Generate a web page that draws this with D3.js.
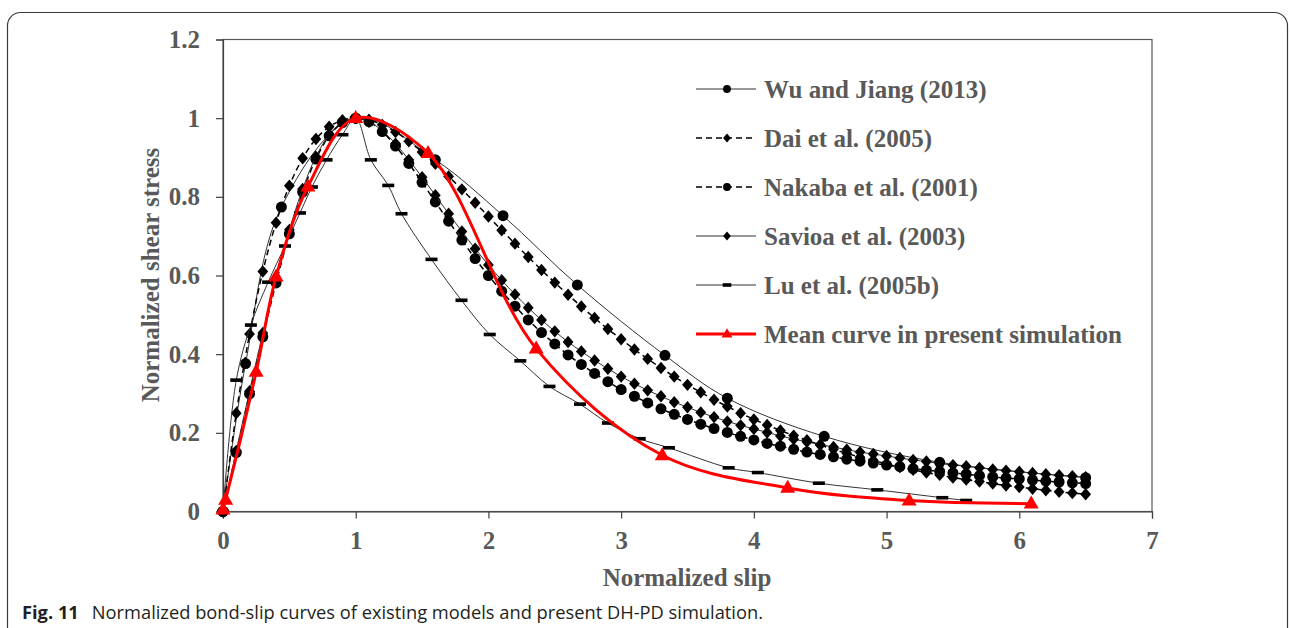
<!DOCTYPE html>
<html lang="en">
<head>
<meta charset="UTF-8">
<title>Normalized bond-slip curves</title>
<script src="https://d3js.org/d3.v7.min.js"></script>
<style>
  body { margin: 0; background: #fff; }
  .tick text, .lbl { font-family: "Liberation Serif", "Times New Roman", serif; font-weight: bold; fill: #595959; }
  .caption { font-family: "Open Sans", "Noto Sans", sans-serif; font-size: 18.3px; fill: #231f20; }
</style>
</head>
<body>
<svg id="chart" width="1290" height="628"></svg>
<script>
// normalized slip grid shared by the dense models
const slipGrid = [0,0.1,0.2,0.3,0.4,0.5,0.6,0.7,0.8,0.9,1.0,1.1,1.2,1.3,1.4,1.5,1.6,1.7,1.8,1.9,
  2.0,2.1,2.2,2.3,2.4,2.5,2.6,2.7,2.8,2.9,3.0,3.1,3.2,3.3,3.4,3.5,3.6,3.7,3.8,3.9,
  4.0,4.1,4.2,4.3,4.4,4.5,4.6,4.7,4.8,4.9,5.0,5.1,5.2,5.3,5.4,5.5,5.6,5.7,5.8,5.9,
  6.0,6.1,6.2,6.3,6.4,6.5];

const daiTau = [0,0.250,0.451,0.610,0.734,0.828,0.898,0.947,0.978,0.995,1.000,0.996,0.983,0.965,0.941,0.914,0.884,0.852,0.819,0.785,
  0.750,0.715,0.681,0.647,0.614,0.582,0.551,0.521,0.492,0.464,0.438,0.412,0.388,0.365,0.343,0.322,0.303,0.284,0.267,0.250,
  0.234,0.220,0.206,0.193,0.181,0.169,0.158,0.148,0.138,0.130,0.121,0.113,0.106,0.099,0.093,0.086,0.081,0.076,0.071,0.066,
  0.062,0.058,0.054,0.050,0.047,0.044];

const nakabaTau = [0,0.150,0.299,0.444,0.581,0.706,0.812,0.896,0.955,0.989,1.000,0.991,0.966,0.929,0.885,0.837,0.787,0.738,0.690,0.643,
  0.600,0.560,0.522,0.487,0.455,0.426,0.398,0.374,0.351,0.330,0.310,0.293,0.276,0.261,0.247,0.234,0.222,0.211,0.201,0.191,
  0.182,0.173,0.166,0.158,0.151,0.145,0.139,0.133,0.128,0.123,0.118,0.114,0.109,0.105,0.102,0.098,0.095,0.091,0.088,0.085,
  0.083,0.080,0.077,0.075,0.073,0.071];

const savioaTau = [0,0.154,0.306,0.454,0.592,0.716,0.820,0.902,0.958,0.990,1.000,0.991,0.968,0.935,0.894,0.850,0.804,0.757,0.712,0.668,
  0.627,0.588,0.552,0.518,0.487,0.458,0.431,0.407,0.384,0.363,0.343,0.325,0.308,0.293,0.278,0.265,0.252,0.240,0.229,0.219,
  0.210,0.201,0.192,0.184,0.177,0.170,0.164,0.157,0.151,0.146,0.141,0.136,0.131,0.127,0.122,0.118,0.115,0.111,0.107,0.104,
  0.101,0.098,0.095,0.092,0.090,0.087];

const wuSlip = [0,0.17,0.44,1.0,1.6,2.11,2.67,3.33,3.8,4.53,5.4,6.5];
const wuTau  = [0,0.376,0.774,1.0,0.894,0.752,0.576,0.397,0.288,0.191,0.125,0.086];

const luSlip = [0,0.1,0.21,0.34,0.467,0.58,0.67,0.78,0.9,1.0,1.114,1.245,1.345,1.571,1.797,2.01,2.24,2.46,2.69,2.9,3.14,3.36,3.81,4.03,4.49,4.93,5.42,5.6];
const luTau  = [0,0.334,0.474,0.583,0.675,0.759,0.825,0.894,0.958,1.0,0.894,0.829,0.757,0.641,0.537,0.45,0.383,0.318,0.273,0.225,0.185,0.162,0.111,0.099,0.072,0.055,0.035,0.028];

const meanSlip = [0,0.02,0.25,0.40,0.64,1.0,1.545,2.36,3.31,4.255,5.17,6.09];
const meanTau  = [0.005,0.03,0.355,0.597,0.826,1.0,0.911,0.414,0.143,0.060,0.028,0.020];

const xTicks = [0,1,2,3,4,5,6,7];
const yTicks = [0,0.2,0.4,0.6,0.8,1,1.2];
const yTickLabels = ["0","0.2","0.4","0.6","0.8","1","1.2"];
const legendLabels = ["Wu and Jiang (2013)","Dai et al. (2005)","Nakaba et al. (2001)","Savioa et al. (2003)","Lu et al. (2005b)","Mean curve in present simulation"];

const svg = d3.select("#chart");

// outer figure frame with rounded corners
svg.append("rect")
  .attr("x", 7.5).attr("y", 12.5).attr("width", 1280).attr("height", 700)
  .attr("rx", 13).attr("fill", "none").attr("stroke", "#3a3a3a").attr("stroke-width", 1.2);

const x = d3.scaleLinear().domain([0, 7]).range([223, 1152]);
const y = d3.scaleLinear().domain([0, 1.2]).range([511.5, 39.5]);

// plot box
svg.append("rect")
  .attr("x", x(0)).attr("y", y(1.2)).attr("width", x(7) - x(0)).attr("height", y(0) - y(1.2))
  .attr("fill", "none").attr("stroke", "#595959").attr("stroke-width", 1.2);

const xAxis = svg.append("g")
  .attr("transform", `translate(0,${y(0)})`)
  .call(d3.axisBottom(x).tickValues(xTicks).tickSize(7).tickPadding(13).tickFormat(d3.format("d")));
const yAxis = svg.append("g")
  .attr("transform", `translate(${x(0)},0)`)
  .call(d3.axisLeft(y).tickValues(yTicks).tickSize(7).tickPadding(16).tickFormat((d, i) => yTickLabels[i]));

[xAxis, yAxis].forEach(g => {
  g.selectAll(".domain, .tick line").attr("stroke", "#404040").attr("stroke-width", 1.2);
  g.selectAll(".tick text").attr("font-size", 25);
});

// axis titles
svg.append("text").attr("class", "lbl")
  .attr("x", 687).attr("y", 586).attr("text-anchor", "middle").attr("font-size", 25)
  .text("Normalized slip");
svg.append("text").attr("class", "lbl")
  .attr("transform", "translate(159,275) rotate(-90)").attr("text-anchor", "middle").attr("font-size", 25)
  .text("Normalized shear stress");

// marker drawers
function drawMarker(g, type, big) {
  const k = big ? 1 : 0.72;
  if (type === "circle") {
    g.append("circle").attr("r", 5.5 * k).attr("fill", "#000");
  } else if (type === "diamond") {
    const w = 5.4 * k, h = 6.2 * k;
    g.append("path").attr("d", `M0,${-h}L${w},0L0,${h}L${-w},0Z`).attr("fill", "#000");
  } else if (type === "dash") {
    g.append("rect").attr("x", -6 * k).attr("y", -1.8).attr("width", 12 * k).attr("height", 3.6).attr("fill", "#000");
  } else if (type === "triangle") {
    const w = 7.5 * k, h = 13 * k;
    g.append("path").attr("d", `M0,${-h * 0.62}L${w},${h * 0.38}L${-w},${h * 0.38}Z`).attr("fill", "#ff0000");
  }
}

const series = [
  { xs: wuSlip,   ys: wuTau,     marker: "circle",   color: "#333", width: 1,   dash: null },
  { xs: slipGrid, ys: daiTau,    marker: "diamond",  color: "#000", width: 1.5, dash: "6,4" },
  { xs: slipGrid, ys: nakabaTau, marker: "circle",   color: "#000", width: 1.5, dash: "6,4" },
  { xs: slipGrid, ys: savioaTau, marker: "diamond",  color: "#333", width: 1,   dash: null },
  { xs: luSlip,   ys: luTau,     marker: "dash",     color: "#333", width: 1,   dash: null },
  { xs: meanSlip, ys: meanTau,   marker: "triangle", color: "#ff0000", width: 3, dash: null }
];

const line = d3.line().x(d => x(d[0])).y(d => y(d[1])).curve(d3.curveCatmullRom.alpha(0.5));

series.forEach(s => {
  const pts = s.xs.map((v, i) => [v, s.ys[i]]);
  const g = svg.append("g");
  g.append("path").attr("d", line(pts))
    .attr("fill", "none").attr("stroke", s.color).attr("stroke-width", s.width)
    .attr("stroke-dasharray", s.dash);
  pts.forEach(p => {
    const m = g.append("g").attr("transform", `translate(${x(p[0])},${y(p[1])})`);
    drawMarker(m, s.marker, true);
  });
});

// legend
const legend = svg.append("g").attr("transform", "translate(696,89)");
series.forEach((s, i) => {
  const row = legend.append("g").attr("transform", `translate(0,${i * 49})`);
  row.append("line").attr("x1", 0).attr("x2", 60).attr("y1", 0).attr("y2", 0)
    .attr("stroke", s.color).attr("stroke-width", s.width).attr("stroke-dasharray", s.dash);
  drawMarker(row.append("g").attr("transform", "translate(31,0)"), s.marker, false);
  row.append("text").attr("class", "lbl").attr("x", 68).attr("y", 8.5).attr("font-size", 25)
    .text(legendLabels[i]);
});

// caption
const cap = svg.append("text").attr("class", "caption").attr("x", 22).attr("y", 619);
cap.append("tspan").attr("font-weight", "bold").text("Fig. 11");
cap.append("tspan").attr("dx", 13).text("Normalized bond-slip curves of existing models and present DH-PD simulation.");
</script>
</body>
</html>
